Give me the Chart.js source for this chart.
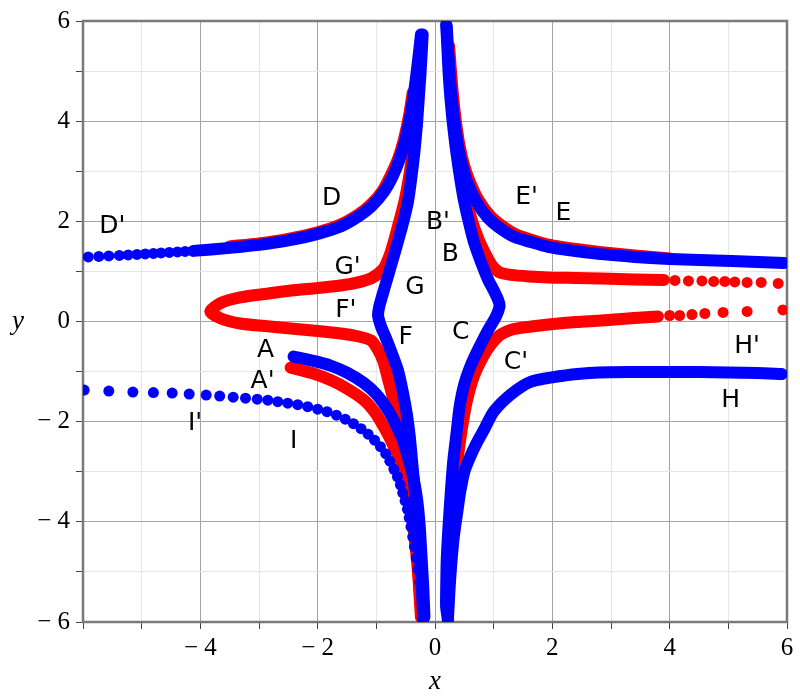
<!DOCTYPE html>
<html>
<head>
<meta charset="utf-8">
<script src="https://cdn.jsdelivr.net/npm/chart.js@4.4.1/dist/chart.umd.min.js"></script>
<style>
  body { margin: 0; background: #fff; }
  #wrap { width: 800px; height: 700px; position: relative; }
</style>
</head>
<body>
<div id="wrap"><canvas id="myChart"></canvas></div>
<script>
// ---- data ----
// blue curves
const blueDSparseX = [-5.91, -5.73, -5.56, -5.38, -5.23, -5.08, -4.94, -4.80, -4.67, -4.53, -4.39, -4.26];
const blueDSparseY = [1.29, 1.30, 1.31, 1.32, 1.33, 1.34, 1.35, 1.36, 1.37, 1.38, 1.39, 1.40];
const blueDX = [-4.12, -3.5, -3.0, -2.5, -2.0, -1.6, -1.3, -1.09, -0.87, -0.72, -0.6, -0.5, -0.42, -0.36, -0.31, -0.27, -0.24];
const blueDY = [1.41, 1.47, 1.53, 1.62, 1.75, 1.9, 2.1, 2.29, 2.59, 2.9, 3.25, 3.65, 4.1, 4.55, 5.0, 5.4, 5.73];

const blueGX = [-0.21, -0.23, -0.25, -0.28, -0.31, -0.35, -0.4, -0.46, -0.56, -0.68, -0.79, -0.89, -0.95, -0.97, -0.92, -0.84, -0.74, -0.63, -0.55, -0.48, -0.43, -0.39, -0.35, -0.31, -0.28, -0.25, -0.22, -0.2];
const blueGY = [5.73, 5.3, 4.9, 4.4, 3.9, 3.4, 2.9, 2.4, 1.9, 1.4, 0.95, 0.55, 0.3, 0.12, -0.1, -0.32, -0.62, -0.98, -1.4, -1.85, -2.3, -2.8, -3.3, -3.8, -4.3, -4.8, -5.4, -5.95];

const blueBX = [0.19, 0.21, 0.23, 0.26, 0.3, 0.35, 0.41, 0.48, 0.56, 0.66, 0.78, 0.9, 1.01, 1.08, 1.1, 1.04, 0.9, 0.76, 0.62, 0.5, 0.42, 0.37, 0.31, 0.27, 0.23, 0.2, 0.19, 0.19, 0.22];
const blueBY = [5.93, 5.5, 5.0, 4.5, 4.0, 3.5, 3.0, 2.5, 2.07, 1.6, 1.2, 0.85, 0.6, 0.42, 0.3, 0.1, -0.18, -0.5, -0.85, -1.25, -1.7, -2.2, -2.8, -3.4, -4.1, -4.76, -5.42, -5.7, -5.96];

const blueEX = [0.2, 0.24, 0.28, 0.33, 0.4, 0.48, 0.56, 0.7, 0.9, 1.1, 1.35, 1.65, 1.93, 2.3, 2.79, 3.4, 4.0, 4.5, 5.06, 5.5, 5.95];
const blueEY = [5.9, 5.1, 4.5, 4.0, 3.45, 3.05, 2.75, 2.4, 2.07, 1.87, 1.69, 1.58, 1.49, 1.42, 1.35, 1.29, 1.25, 1.23, 1.21, 1.19, 1.17];

const blueHX = [5.91, 5.5, 5.0, 4.5, 4.0, 3.4, 2.79, 2.2, 1.64, 1.3, 1.0, 0.84, 0.7, 0.6, 0.5, 0.43, 0.38, 0.32, 0.28, 0.25, 0.22];
const blueHY = [-1.05, -1.03, -1.02, -1.01, -1.01, -1.01, -1.02, -1.08, -1.2, -1.45, -1.8, -2.15, -2.45, -2.7, -3.0, -3.4, -3.8, -4.3, -4.8, -5.3, -5.95];

const blueAX = [-2.41, -2.1, -1.78, -1.5, -1.21, -1.0, -0.8, -0.65, -0.53, -0.44, -0.36, -0.3, -0.26, -0.23, -0.2, -0.18];
const blueAY = [-0.7, -0.78, -0.88, -1.02, -1.23, -1.45, -1.77, -2.1, -2.43, -2.8, -3.17, -3.6, -4.1, -4.7, -5.3, -5.9];

const blueIX = [-5.98, -5.56, -5.15, -4.8, -4.48, -4.19, -3.9, -3.67, -3.44, -3.23, -3.03, -2.85, -2.68, -2.51, -2.34, -2.17, -2.0, -1.84, -1.68, -1.53, -1.39, -1.26, -1.14, -1.03, -0.93, -0.84, -0.77, -0.7, -0.64, -0.59, -0.55, -0.51, -0.47, -0.44, -0.41, -0.38, -0.35, -0.32, -0.29, -0.26, -0.23, -0.2];
const blueIY = [-1.37, -1.39, -1.41, -1.42, -1.43, -1.45, -1.47, -1.49, -1.51, -1.53, -1.55, -1.57, -1.6, -1.63, -1.66, -1.7, -1.75, -1.8, -1.87, -1.95, -2.04, -2.14, -2.25, -2.37, -2.5, -2.64, -2.79, -2.95, -3.1, -3.26, -3.42, -3.58, -3.75, -3.92, -4.1, -4.3, -4.5, -4.72, -4.95, -5.2, -5.5, -5.8];

// red curves
const redDX = [-3.5, -3.0, -2.5, -2.0, -1.6, -1.3, -1.09, -0.9, -0.75, -0.62, -0.52, -0.44, -0.38];
const redDY = [1.5, 1.56, 1.65, 1.78, 1.94, 2.14, 2.34, 2.6, 2.93, 3.28, 3.68, 4.12, 4.57];

const redEX = [0.24, 0.3, 0.35, 0.42, 0.5, 0.59, 0.73, 0.93, 1.13, 1.38, 1.68, 1.96, 2.33, 2.8, 3.4, 4.0];
const redEY = [5.5, 4.6, 4.05, 3.5, 3.1, 2.8, 2.45, 2.12, 1.92, 1.74, 1.62, 1.53, 1.46, 1.39, 1.32, 1.26];

const redBX = [0.22, 0.25, 0.28, 0.32, 0.38, 0.45, 0.53, 0.62, 0.74, 0.86, 0.97, 1.1, 1.3, 1.6, 1.93, 2.4, 2.84, 3.4, 3.9];
const redBY = [5.5, 5.0, 4.5, 4.0, 3.5, 3.0, 2.5, 2.05, 1.65, 1.35, 1.12, 0.98, 0.93, 0.9, 0.88, 0.87, 0.86, 0.84, 0.83];
const redBSparseX = [4.09, 4.32, 4.55, 4.75, 4.94, 5.11, 5.32, 5.56, 5.85];
const redBSparseY = [0.82, 0.81, 0.81, 0.8, 0.8, 0.79, 0.78, 0.78, 0.76];

const redCX = [0.22, 0.25, 0.28, 0.32, 0.38, 0.45, 0.54, 0.66, 0.82, 0.96, 1.12, 1.35, 1.64, 1.93, 2.4, 2.84, 3.4, 3.8];
const redCY = [-5.5, -4.8, -4.1, -3.4, -2.8, -2.2, -1.6, -1.1, -0.7, -0.45, -0.26, -0.15, -0.1, -0.06, -0.01, 0.02, 0.07, 0.1];
const redCSparseX = [4.0, 4.17, 4.38, 4.6, 4.91, 5.32, 5.93];
const redCSparseY = [0.12, 0.12, 0.14, 0.16, 0.18, 0.2, 0.23];

const redGX = [-0.25, -0.27, -0.3, -0.34, -0.38, -0.44, -0.52, -0.62, -0.7, -0.78, -0.88, -1.09, -1.35, -1.61, -2.0, -2.46, -2.9, -3.32, -3.65, -3.83, -3.65, -3.32, -2.9, -2.46, -2.0, -1.61, -1.3, -1.09, -0.98, -0.88, -0.8, -0.72, -0.63, -0.56, -0.49, -0.42, -0.36, -0.31, -0.27, -0.23];
const redGY = [5.4, 4.9, 4.4, 3.9, 3.4, 2.9, 2.4, 1.95, 1.6, 1.3, 1.05, 0.86, 0.77, 0.72, 0.67, 0.62, 0.55, 0.48, 0.37, 0.2, 0.06, -0.04, -0.09, -0.14, -0.19, -0.24, -0.3, -0.38, -0.55, -0.8, -1.15, -1.51, -2.0, -2.45, -2.9, -3.4, -3.9, -4.5, -5.2, -5.9];

const redAX = [-2.46, -2.1, -1.78, -1.5, -1.21, -1.02, -0.87, -0.72, -0.6, -0.5, -0.42, -0.35, -0.29, -0.24];
const redAY = [-0.92, -1.03, -1.17, -1.34, -1.57, -1.82, -2.11, -2.45, -2.8, -3.2, -3.7, -4.3, -5.0, -5.9];

// curve labels
const labelNames = ["D'", 'D', "E'", 'E', "B'", 'B', "G'", 'G', "F'", 'F', 'C', "C'", 'A', "A'", "I'", 'I', "H'", 'H'];
const labelX = [-5.5, -1.76, 1.56, 2.19, 0.05, 0.26, -1.49, -0.34, -1.52, -0.5, 0.44, 1.38, -2.89, -2.94, -4.09, -2.41, 5.32, 5.04];
const labelY = [1.89, 2.45, 2.47, 2.15, 1.97, 1.33, 1.08, 0.68, 0.22, -0.32, -0.22, -0.82, -0.58, -1.2, -2.03, -2.39, -0.5, -1.57];

// axis ticks
const tickMin = -6;
const tickMax = 6;

// -----------------------------------
const BLUE = '#0000ff';
const RED = '#ff0000';

function pts(xs, ys) {
    return xs.map((x, i) => ({ x: x, y: ys[i] }));
}

function band(xs, ys, color, order) {
    return {
        data: pts(xs, ys),
        showLine: true,
        borderColor: color,
        backgroundColor: color,
        borderWidth: 12,
        borderCapStyle: 'round',
        borderJoinStyle: 'round',
        tension: 0.25,
        pointRadius: 5.5,
        pointBorderWidth: 0,
        order: order
    };
}

function dots(xs, ys, color, order) {
    return {
        data: pts(xs, ys),
        showLine: false,
        backgroundColor: color,
        borderColor: color,
        pointRadius: 5.5,
        pointBorderWidth: 0,
        order: order
    };
}

const datasets = [
    // blue on top
    dots(blueDSparseX, blueDSparseY, BLUE, 0),
    band(blueDX, blueDY, BLUE, 0),
    band(blueGX, blueGY, BLUE, 0),
    band(blueBX, blueBY, BLUE, 0),
    band(blueEX, blueEY, BLUE, 0),
    band(blueHX, blueHY, BLUE, 0),
    band(blueAX, blueAY, BLUE, 0),
    dots(blueIX, blueIY, BLUE, 0),
    // red underneath
    band(redDX, redDY, RED, 1),
    band(redEX, redEY, RED, 1),
    band(redBX, redBY, RED, 1),
    dots(redBSparseX, redBSparseY, RED, 1),
    band(redCX, redCY, RED, 1),
    dots(redCSparseX, redCSparseY, RED, 1),
    band(redGX, redGY, RED, 1),
    band(redAX, redAY, RED, 1)
];

const fmt = v => v < 0 ? '\u2212 ' + (-v) : String(v);

const tickFont = { family: "'Liberation Serif', 'DejaVu Serif', serif", size: 25 };

// frame, axis titles and curve labels
const extras = {
    id: 'extras',
    beforeDatasetsDraw(chart) {
        const { ctx, chartArea: a } = chart;
        ctx.save();
        ctx.strokeStyle = '#7a7a7a';
        ctx.lineWidth = 2.5;
        ctx.strokeRect(a.left, a.top, a.right - a.left, a.bottom - a.top);
        ctx.restore();
    },
    afterDatasetsDraw(chart) {
        const { ctx, chartArea: a, scales } = chart;
        ctx.save();
        ctx.fillStyle = '#000';
        ctx.font = "25px 'DejaVu Sans', sans-serif";
        ctx.textAlign = 'center';
        ctx.textBaseline = 'middle';
        labelNames.forEach((t, i) => {
            ctx.fillText(t, scales.x.getPixelForValue(labelX[i]), scales.y.getPixelForValue(labelY[i]));
        });
        ctx.font = "italic 27px 'Liberation Serif', serif";
        ctx.fillText('x', scales.x.getPixelForValue(0), a.bottom + 60);
        ctx.fillText('y', 18, scales.y.getPixelForValue(0));
        ctx.restore();
    }
};

const config = {
    type: 'scatter',
    data: { datasets: datasets },
    options: {
        responsive: true,
        maintainAspectRatio: false,
        animation: false,
        layout: { padding: { top: 20, right: 13, left: 0, bottom: 0 } },
        plugins: {
            legend: { display: false },
            tooltip: { enabled: false }
        },
        scales: {
            x: {
                type: 'linear',
                min: tickMin,
                max: tickMax,
                afterFit: s => { s.height = 78; },
                border: { display: false },
                grid: {
                    color: c => c.tick && c.tick.value % 2 === 0 ? '#a3a3a3' : '#e6e6e6',
                    tickColor: '#444',
                    tickLength: 7,
                    lineWidth: 1
                },
                ticks: {
                    stepSize: 1,
                    autoSkip: false,
                    maxRotation: 0,
                    padding: 4,
                    color: '#000',
                    font: tickFont,
                    // the reference leaves the -6 corner unlabelled on x
                    callback: v => (v % 2 === 0 && v !== tickMin) ? fmt(v) : ''
                }
            },
            y: {
                type: 'linear',
                min: tickMin,
                max: tickMax,
                afterFit: s => { s.width = 83; },
                border: { display: false },
                grid: {
                    color: c => c.tick && c.tick.value % 2 === 0 ? '#a3a3a3' : '#e6e6e6',
                    tickColor: '#444',
                    tickLength: 7,
                    lineWidth: 1
                },
                ticks: {
                    stepSize: 1,
                    autoSkip: false,
                    padding: 6,
                    color: '#000',
                    font: tickFont,
                    callback: v => v % 2 === 0 ? fmt(v) : ''
                }
            }
        }
    },
    plugins: [extras]
};

const myChart = new Chart(document.getElementById('myChart'), config);
</script>
</body>
</html>
